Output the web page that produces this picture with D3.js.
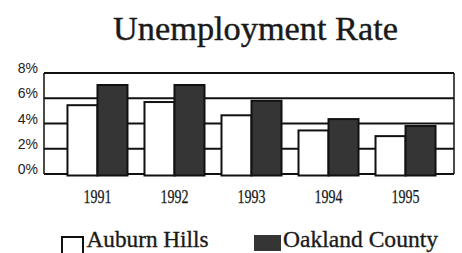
<!DOCTYPE html>
<html><head><meta charset="utf-8">
<script src="https://cdn.jsdelivr.net/npm/d3@7"></script>
<style>html,body{margin:0;padding:0;background:#fff;overflow:hidden}</style>
</head><body><svg id="c" width="462" height="253"></svg>
<script>
const years = ["1991","1992","1993","1994","1995"];
const series = ["Auburn Hills","Oakland County"];
const auburnHills = [5.45, 5.7, 4.65, 3.45, 3.0];
const oaklandCounty = [7.05, 7.05, 5.8, 4.35, 3.8];
const yTicks = [0, 2, 4, 6, 8];
const colors = ["#ffffff", "#353535"];

const serif = "'Liberation Serif', 'Times New Roman', serif";
const svg = d3.select("#c");
const frame = {l: 44, r: 454, t: 73, b: 174};
const y = d3.scaleLinear().domain([0, 8]).range([frame.b, frame.t]);
const x0 = d3.scaleBand().domain(years).range([59, 444]).paddingInner(17/77).paddingOuter(0.11);
const x1 = d3.scaleBand().domain(series).range([0, x0.bandwidth()]);

svg.append("text").attr("x", 255.5).attr("y", 40).attr("text-anchor", "middle")
  .attr("font-family", serif).attr("font-size", 33)
  .attr("textLength", 285).attr("lengthAdjust", "spacingAndGlyphs")
  .attr("fill", "#1a1a1a").attr("stroke", "#1a1a1a").attr("stroke-width", 0.4)
  .text("Unemployment Rate");

// gridlines
svg.append("g").selectAll("line").data(yTicks).join("line")
  .attr("x1", frame.l).attr("x2", frame.r).attr("y1", d => y(d)).attr("y2", d => y(d))
  .attr("stroke", "#111").attr("stroke-width", 2);
svg.append("line").attr("x1", frame.l).attr("x2", frame.l).attr("y1", frame.t).attr("y2", frame.b)
  .attr("stroke", "#111").attr("stroke-width", 1.5);
svg.append("line").attr("x1", frame.r).attr("x2", frame.r).attr("y1", frame.t).attr("y2", frame.b)
  .attr("stroke", "#111").attr("stroke-width", 1.5);

// y tick labels
const yAxis = d3.axisLeft(y).tickValues(yTicks).tickFormat(d => d + "%").tickSize(0).tickPadding(6);
const ya = svg.append("g").attr("transform", `translate(${frame.l},0)`).call(yAxis);
ya.select(".domain").remove();
ya.selectAll("text").attr("font-family", "'Liberation Sans', Arial, sans-serif").attr("font-size", 14)
  .attr("fill", "#222").attr("dy", "-0.02em");

// bars
const data = years.map((yr, i) => ({yr, vals: [auburnHills[i], oaklandCounty[i]]}));
const g = svg.append("g").selectAll("g").data(data).join("g")
  .attr("transform", d => `translate(${x0(d.yr)},0)`);
g.selectAll("rect").data(d => d.vals.map((v, j) => ({v, s: series[j], j}))).join("rect")
  .attr("x", d => x1(d.s)).attr("width", x1.bandwidth())
  .attr("y", d => y(d.v)).attr("height", d => y(0) - y(d.v) + 1.5)
  .attr("fill", d => colors[d.j]).attr("stroke", "#111").attr("stroke-width", 2);

// x labels
const xAxis = d3.axisBottom(x0).tickSize(0).tickPadding(0);
const xa = svg.append("g").attr("transform", `translate(0,203)`).call(xAxis);
xa.select(".domain").remove();
xa.selectAll("text").attr("dy", 0).attr("font-family", serif)
  .attr("font-size", 18).attr("fill", "#1a1a1a").attr("stroke", "#1a1a1a").attr("stroke-width", 0.25)
  .attr("textLength", 28).attr("lengthAdjust", "spacingAndGlyphs");

// legend
svg.append("rect").attr("x", 62).attr("y", 237).attr("width", 21).attr("height", 20)
  .attr("fill", colors[0]).attr("stroke", "#111").attr("stroke-width", 2);
svg.append("rect").attr("x", 254).attr("y", 235).attr("width", 27).attr("height", 16)
  .attr("fill", colors[1]);
svg.append("text").attr("x", 86.5).attr("y", 247).attr("font-family", serif)
  .attr("font-size", 24).attr("fill", "#1a1a1a").attr("stroke", "#1a1a1a").attr("stroke-width", 0.35)
  .attr("textLength", 122).attr("lengthAdjust", "spacingAndGlyphs")
  .text(series[0]);
svg.append("text").attr("x", 283).attr("y", 247).attr("font-family", serif)
  .attr("font-size", 24).attr("fill", "#1a1a1a").attr("stroke", "#1a1a1a").attr("stroke-width", 0.35)
  .attr("textLength", 155).attr("lengthAdjust", "spacingAndGlyphs")
  .text(series[1]);
</script></body></html>
